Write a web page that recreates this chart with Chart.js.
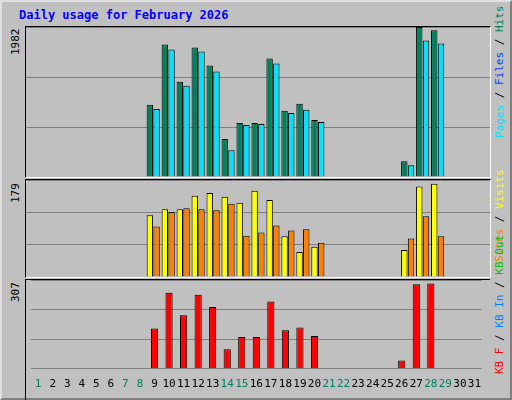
<!DOCTYPE html>
<html>
<head>
<meta charset="utf-8">
<script src="https://cdn.jsdelivr.net/npm/chart.js@4/dist/chart.umd.min.js"></script>
<style>
body { margin: 0; background: #c0c0c0; }
#frame { position: absolute; left: 0; top: 0; width: 508px; height: 396px; background: #c0c0c0;
  border-left: 2px solid #e0e0e0; border-top: 2px solid #e0e0e0; border-right: 2px solid #808080; border-bottom: 2px solid #808080; }
.panel { position: absolute; left: 25px; width: 464px; border-top: 1px solid #000; border-left: 1px solid #000;
  border-right: 1px solid #fff; border-bottom: 1px solid #fff; }
canvas { display: block; }
.mono { font-family: "DejaVu Sans Mono", monospace; font-size: 11px; }
.rot { position: absolute; transform-origin: left top; transform: rotate(-90deg); white-space: nowrap; }
</style>
</head>
<body>
<div id="frame"></div>
<div class="mono" style="position:absolute;left:19px;top:8px;color:#0000ff;font-weight:bold;font-size:12px">Daily usage for February 2026</div>
<div class="panel" style="top:26px;height:150px"><canvas id="c1" width="464" height="150"></canvas></div>
<div class="panel" style="top:179px;height:97px"><canvas id="c2" width="464" height="97"></canvas></div>
<div class="panel" style="top:279px;height:120px;border-bottom:none;border-right:none"><canvas id="c3" width="464" height="120"></canvas></div>
<div class="mono rot" style="left:9px;top:55px;color:#000">1982</div>
<div class="mono rot" style="left:9px;top:203px;color:#000">179</div>
<div class="mono rot" style="left:9px;top:302px;color:#000">307</div>
<div class="mono rot" style="left:493px;top:138px"><span style="color:#00e0ff">Pages</span> / <span style="color:#0040ff">Files</span> / <span style="color:#00805c">Hits</span></div>
<div class="mono rot" style="left:493px;top:262px"><span style="color:#ff8000">Sites</span> / <span style="color:#ffff00">Visits</span></div>
<div class="mono rot" style="left:493px;top:374px"><span style="color:#ff0000">KB F</span> / <span style="color:#0080ff">KB In</span> / <span style="color:#00c000">KB Out</span></div>
<script>
// values, one per day of the month (0 = no traffic)
const days = ['1','2','3','4','5','6','7','8','9','10','11','12','13','14','15','16','17','18','19','20','21','22','23','24','25','26','27','28','29','30','31'];
const weekend = [1, 7, 8, 14, 15, 21, 22, 28, 29];
const hits   = [0,0,0,0,0,0,0,0,954,1752,1260,1712,1472,501,714,714,1566,874,967,754,0,0,0,0,0,209,1982,1938,0,0,0];
const pages  = [0,0,0,0,0,0,0,0,900,1685,1206,1659,1393,355,688,701,1499,847,887,727,0,0,0,0,0,156,1805,1765,0,0,0];
const visits = [0,0,0,0,0,0,0,0,114,125,125,150,155,148,137,159,142,75,46,56,0,0,0,0,0,50,167,172,0,0,0];
const sites  = [0,0,0,0,0,0,0,0,93,120,127,125,123,135,76,82,95,86,88,63,0,0,0,0,0,71,112,75,0,0,0];
const kbytes = [0,0,0,0,0,0,0,0,139,263,185,256,214,68,110,110,233,133,143,113,0,0,0,0,0,29,292,295,0,0,0];

function panel(id, sets, max, showX) {
    return new Chart(document.getElementById(id), {
        type: 'bar',
        data: { labels: days, datasets: sets },
        options: {
            responsive: false,
            animation: false,
            layout: { padding: 0 },
            plugins: { legend: { display: false }, tooltip: { enabled: false } },
            scales: {
                x: {
                    display: showX,
                    grid: { display: false, drawTicks: false },
                    border: { display: false },
                    ticks: {
                        autoSkip: false, maxRotation: 0, padding: 9,
                        font: { family: 'DejaVu Sans Mono', size: 11 },
                        color: function(c) { return weekend.includes(c.index + 1) ? '#00805c' : '#000'; }
                    }
                },
                y: {
                    min: 0, max: max,
                    ticks: { display: false, stepSize: max / 3 },
                    grid: { color: '#808080', drawTicks: false, lineWidth: 1 },
                    border: { display: false }
                }
            }
        }
    });
}

panel('c1', [
    { data: hits, backgroundColor: '#00805c', borderColor: '#000', borderWidth: 1, categoryPercentage: 0.9, barPercentage: 0.95 },
    { data: pages, backgroundColor: '#00e0ff', borderColor: '#000', borderWidth: 1, categoryPercentage: 0.9, barPercentage: 0.95 }
], 1982, false);

panel('c2', [
    { data: visits, backgroundColor: '#ffff00', borderColor: '#000', borderWidth: 1, categoryPercentage: 0.9, barPercentage: 0.95 },
    { data: sites, backgroundColor: '#ff8000', borderColor: '#000', borderWidth: 1, categoryPercentage: 0.9, barPercentage: 0.95 }
], 179, false);

panel('c3', [
    { data: kbytes, backgroundColor: '#ff0000', borderColor: '#000', borderWidth: 1, categoryPercentage: 0.9, barPercentage: 0.55 }
], 307, true);
</script>
</body>
</html>
